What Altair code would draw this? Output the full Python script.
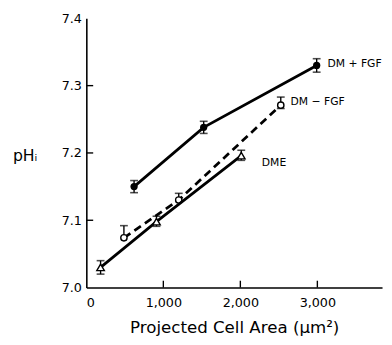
import altair as alt
import pandas as pd

# ---- data ----
series_names = ["DM + FGF", "DM \u2212 FGF", "DME"]

dmp_x = [620, 1524, 2991]
dmp_y = [7.150, 7.238, 7.330]
dmp_lo = [7.141, 7.229, 7.320]
dmp_hi = [7.159, 7.247, 7.340]

dmm_x = [488, 1200, 2525]
dmm_y = [7.074, 7.130, 7.271]
dmm_lo = [7.074, 7.130, 7.266]
dmm_hi = [7.092, 7.140, 7.283]

dme_x = [185, 911, 2012]
dme_y = [7.030, 7.098, 7.196]
dme_lo = [7.020, 7.091, 7.189]
dme_hi = [7.040, 7.106, 7.204]

x_ticks = [1000, 2000, 3000]
y_ticks = [7.0, 7.1, 7.2, 7.3, 7.4]

W, H = 302, 275
FONT = "DejaVu Sans"

def frame(name, xs, ys, lo, hi):
    return pd.DataFrame({"series": name, "x": xs, "y": ys, "lo": lo, "hi": hi})

df_p = frame(series_names[0], dmp_x, dmp_y, dmp_lo, dmp_hi)
df_m = frame(series_names[1], dmm_x, dmm_y, dmm_lo, dmm_hi)
df_e = frame(series_names[2], dme_x, dme_y, dme_lo, dme_hi)

xs = alt.Scale(domain=[0, 3840], nice=False, zero=False)
ys = alt.Scale(domain=[7.0, 7.4], nice=False, zero=False)

X = alt.X("x:Q", scale=xs, axis=alt.Axis(
    values=[0] + x_ticks, format=",d", ticks=False, grid=False,
    labelFont=FONT, labelFontSize=13, labelColor="black", labelPadding=9,
    domainColor="black", domainWidth=1.6,
    title="Projected Cell Area  (\u03bcm\u00b2)", titleFont=FONT, titleFontSize=17,
    titleFontWeight="normal", titleColor="black", titlePadding=11))
Y = alt.Y("y:Q", scale=ys, axis=alt.Axis(
    values=y_ticks, format=".1f", ticks=False, grid=False,
    labelFont=FONT, labelFontSize=13, labelColor="black", labelPadding=5,
    domainColor="black", domainWidth=1.6,
    title="pH\u1d62", titleFont=FONT, titleFontSize=16, titleFontWeight="normal",
    titleColor="black", titleAngle=0, titleAlign="center", titleBaseline="middle",
    titleX=-63, titleY=140))

layers = []

def series_layers(df, filled, shape, dash, size):
    base = alt.Chart(df)
    line = base.mark_line(color="black", strokeWidth=2.8,
                          **({"strokeDash": dash} if dash else {})).encode(x=X, y=Y)
    bar = base.mark_rule(color="black", strokeWidth=1.4).encode(
        x="x:Q", y=alt.Y("lo:Q", scale=ys), y2="hi:Q")
    cap_hi = base.mark_tick(color="black", thickness=1.6, size=8, orient="horizontal").encode(
        x="x:Q", y=alt.Y("hi:Q", scale=ys))
    pts = base.mark_point(shape=shape, filled=filled, size=size, color="black",
                          fill="black" if filled else "white", strokeWidth=1.4,
                          opacity=1).encode(x="x:Q", y=alt.Y("y:Q", scale=ys))
    return [line, bar, cap_hi, pts]

layers += series_layers(df_p, True, "circle", None, 55)
layers += series_layers(df_m, False, "circle", [8, 5], 42)
layers += series_layers(df_e, False, "triangle-up", None, 60)

# lower caps (only where lo differs from the point)
for d in (df_p, df_e):
    layers.append(alt.Chart(d).mark_tick(color="black", thickness=1.6, size=8,
                                          orient="horizontal").encode(
        x="x:Q", y=alt.Y("lo:Q", scale=ys)))
layers.append(alt.Chart(df_m.iloc[[2]]).mark_tick(color="black", thickness=1.6, size=8,
                                                   orient="horizontal").encode(
    x="x:Q", y=alt.Y("lo:Q", scale=ys)))

# series labels at the last point of each series
for d, dx, dy in ((df_p, 11, -1), (df_m, 10, -3), (df_e, 21, 8)):
    last = d.iloc[[-1]]
    layers.append(alt.Chart(last).mark_text(
        align="left", baseline="middle", dx=dx, dy=dy, font=FONT, fontSize=11,
        color="black").encode(x="x:Q", y=alt.Y("y:Q", scale=ys), text="series:N"))

# inward ticks
ytk = pd.DataFrame({"v": y_ticks[1:4]})
xtk = pd.DataFrame({"v": x_ticks})
layers.append(alt.Chart(ytk).mark_rule(color="black", strokeWidth=1.4).encode(
    y=alt.Y("v:Q", scale=ys), x=alt.value(0), x2=alt.value(7)))
layers.append(alt.Chart(xtk).mark_rule(color="black", strokeWidth=1.4).encode(
    x=alt.X("v:Q", scale=xs), y=alt.value(H), y2=alt.value(H - 7)))

chart = alt.layer(*layers).properties(
    width=W, height=H,
    autosize=alt.AutoSizeParams(type="none"),
    padding={"left": 80, "top": 7, "right": 2, "bottom": 50},
    background="white",
).configure_view(stroke=None)

chart.save("out.html", embed_options={"renderer": "svg", "actions": False})
